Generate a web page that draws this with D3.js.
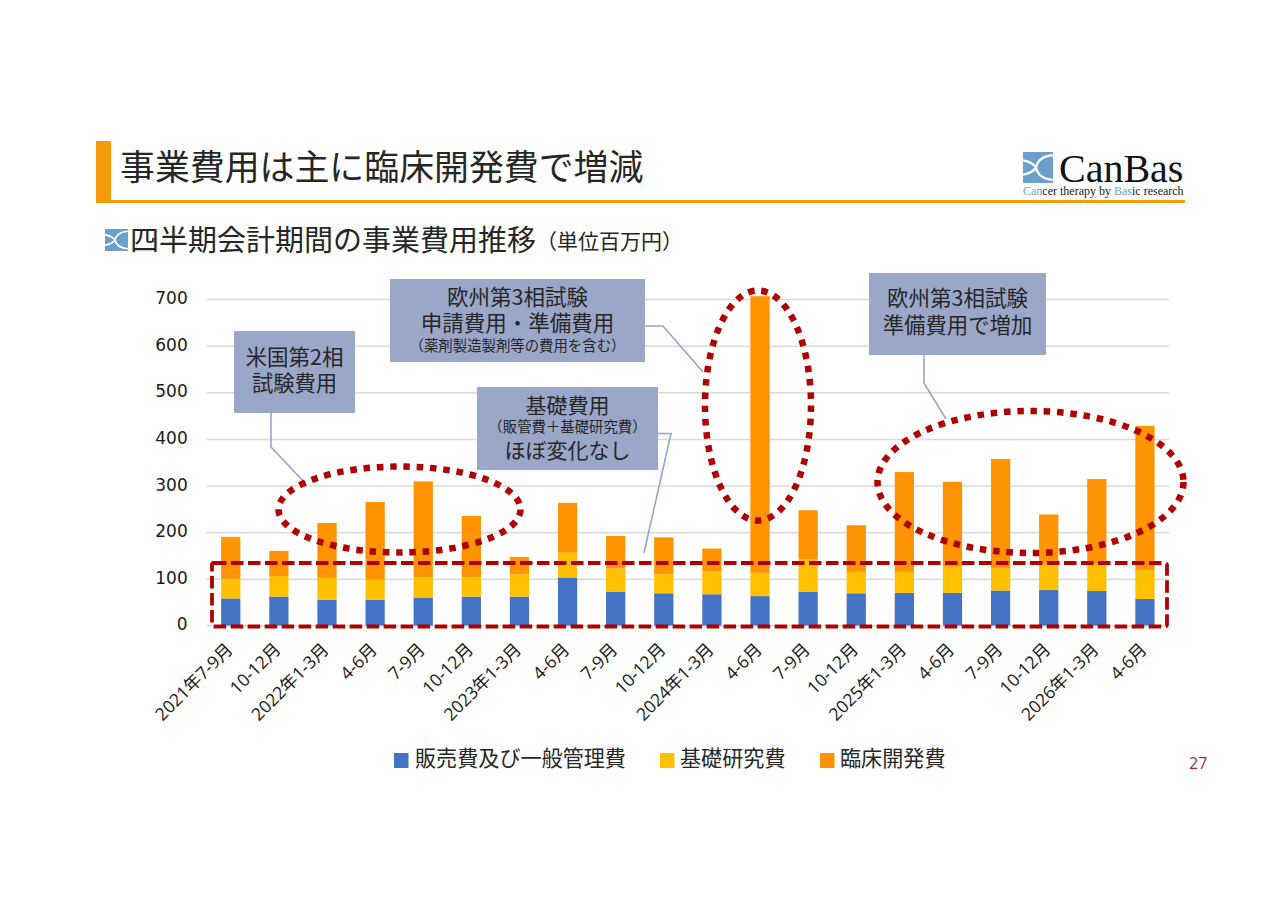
<!DOCTYPE html>
<html lang="ja">
<head>
<meta charset="utf-8">
<script src="https://cdn.jsdelivr.net/npm/d3@7/dist/d3.min.js"></script>
<style>
html,body{margin:0;padding:0;background:#fff;}
svg{display:block;}
text{font-family:"Noto Sans CJK JP","Noto Sans",sans-serif;fill:#262626;}
</style>
</head>
<body>
<div id="chart"></div>
<script>
const quarters = ["2021年7-9月","10-12月","2022年1-3月","4-6月","7-9月","10-12月","2023年1-3月","4-6月","7-9月","10-12月","2024年1-3月","4-6月","7-9月","10-12月","2025年1-3月","4-6月","7-9月","10-12月","2026年1-3月","4-6月"];
const sellingAdmin = [58,62,55,55,60,62,62,103,72,69,67,63,72,69,70,70,75,76,74,57];
const basicResearch = [42,44,47,43,43,41,48,53,50,41,49,50,70,46,45,56,48,58,60,62];
const clinical = [90,54,118,167,206,132,37,107,70,79,49,593,105,100,214,182,234,104,180,309];
const seriesNames = ["販売費及び一般管理費","基礎研究費","臨床開発費"];
const seriesColors = ["#4472C4","#FFC000","#FF9400"];
const yTicks = [0,100,200,300,400,500,600,700];

const width = 1280, height = 904;
const svg = d3.select("#chart").append("svg").attr("width",width).attr("height",height);
const accent = "#F79A0C", boxFill = "#9BA7C9", leader = "#96A4C4", red = "#B00000";

/* logo mark: blue square with white arcs */
function mark(x,y,w,h,c){
  const g = svg.append("g").attr("transform",`translate(${x},${y}) scale(${w/30},${h/30})`);
  g.append("rect").attr("width",30).attr("height",30).attr("fill",c);
  g.append("path").attr("fill","none").attr("stroke","#fff").attr("stroke-width",2.2)
    .attr("d","M30,3 C18,4 14,10 13,15 C14,20 18,26 30,27 M0,8 C6,9 11,12 13,15 C11,18 6,21 0,22");
}

/* header */
svg.append("rect").attr("x",96).attr("y",141).attr("width",15).attr("height",61).attr("fill",accent);
svg.append("rect").attr("x",96).attr("y",200).attr("width",1089).attr("height",3).attr("fill",accent);
svg.append("text").attr("x",120).attr("y",180).attr("font-size",34.9).text("事業費用は主に臨床開発費で増減");
mark(1023,152,30,31,"#6A9FCE");
svg.append("text").attr("x",1059).attr("y",182).style("font-family","'Liberation Serif',serif").attr("font-size",40).style("fill","#111").text("CanBas");
const tag = svg.append("text").attr("x",1023).attr("y",195).style("font-family","'Liberation Serif',serif").attr("font-size",12);
[["Can","#6A9FCE"],["cer therapy by ","#222"],["Bas","#6A9FCE"],["ic research","#222"]].forEach(d=>tag.append("tspan").style("fill",d[1]).text(d[0]));

mark(105,229,23,22,"#6A9FCE");
svg.append("text").attr("x",130).attr("y",251).attr("font-size",29).text("四半期会計期間の事業費用推移");
svg.append("text").attr("x",536).attr("y",249).attr("font-size",21).text("（単位百万円）");

/* chart */
const x = d3.scaleBand().domain(d3.range(quarters.length)).range([206.7,1169]).paddingInner(0.6).paddingOuter(0.3);
const y = d3.scaleLinear().domain([0,700]).range([625.5,299]);
const rows = quarters.map((q,i)=>({q,i,a:sellingAdmin[i],b:basicResearch[i],c:clinical[i]}));
const stacked = d3.stack().keys(["a","b","c"])(rows);

const yAxis = svg.append("g").attr("transform","translate(206.7,0)")
  .call(d3.axisLeft(y).tickValues(yTicks).tickSize(-962.3).tickPadding(19));
yAxis.select(".domain").remove();
yAxis.selectAll("line").attr("stroke","#DADADA").attr("stroke-width",1.5);
yAxis.selectAll("text").attr("font-size",17).attr("y",-1).style("font-family","'DejaVu Sans',sans-serif").style("fill","#1a1a1a");

svg.append("g").selectAll("g").data(stacked).join("g").attr("fill",(d,i)=>seriesColors[i])
  .selectAll("rect").data(d=>d).join("rect")
  .attr("x",d=>x(d.data.i)).attr("width",x.bandwidth())
  .attr("y",d=>y(d[1])).attr("height",d=>y(d[0])-y(d[1]));

const xAxis = svg.append("g").attr("transform","translate(0,625.5)")
  .call(d3.axisBottom(x).tickFormat(i=>quarters[i]).tickSize(0).tickPadding(0));
xAxis.select(".domain").remove();
xAxis.selectAll("text").attr("font-size",17.5).attr("text-anchor","end").attr("dy",0).attr("y",0)
  .attr("transform","translate(3,25) rotate(-45)").style("font-family","'Open Sans','Noto Sans CJK JP',sans-serif").style("fill","#1a1a1a");

/* legend */
const legendX = [394,660,820], legendTextX = [415,680,840];
const legend = svg.append("g");
seriesNames.forEach((n,i)=>{
  legend.append("rect").attr("x",legendX[i]).attr("y",753).attr("width",14.5).attr("height",15).attr("fill",seriesColors[i]);
  legend.append("text").attr("x",legendTextX[i]).attr("y",766).attr("font-size",21.1).text(n);
});

/* callouts */
function poly(pts){svg.append("path").attr("d",d3.line()(pts)).attr("fill","none").attr("stroke",leader).attr("stroke-width",1.6);}
function box(x0,y0,w,h,lines){
  svg.append("rect").attr("x",x0).attr("y",y0).attr("width",w).attr("height",h).attr("fill",boxFill);
  lines.forEach(l=>svg.append("text").attr("x",x0+w/2).attr("y",l[1]).attr("text-anchor","middle").attr("font-size",l[2]).text(l[0]));
}
poly([[271,413],[271,447],[305,483]]);
poly([[645,326],[663,326],[703,372]]);
poly([[658,433.5],[671,433.5],[644,553]]);
poly([[924,355],[924,383],[946,419]]);
box(234,331,121,82,[["米国第2相",365,21.5],["試験費用",391,21.3]]);
box(390,279,255,83,[["欧州第3相試験",305,21.5],["申請費用・準備費用",331,21.5],["（薬剤製造製剤等の費用を含む）",350.5,14.4]]);
box(477,387,181,83,[["基礎費用",412.5,21],["（販管費＋基礎研究費）",431.5,14.4],["ほぼ変化なし",458,21]]);
box(869,273,177,82,[["欧州第3相試験",306,21.5],["準備費用で増加",333,21.4]]);

/* highlights */
[[399.5,509.5,121,43],[758,405.5,53,115],[1030.5,482,153,71]].forEach(e=>{
  svg.append("ellipse").attr("cx",e[0]).attr("cy",e[1]).attr("rx",e[2]).attr("ry",e[3])
    .attr("fill","none").attr("stroke",red).attr("stroke-width",6.5).attr("stroke-dasharray","6.5 6.8");
});
svg.append("rect").attr("x",212).attr("y",563).attr("width",955).attr("height",63.5).attr("rx",2)
  .attr("fill","none").attr("stroke",red).attr("stroke-width",3.8).attr("stroke-dasharray","12.5 4.5");

svg.append("text").attr("x",1189).attr("y",769).attr("font-size",16).style("font-family","'Open Sans',sans-serif").style("fill","#A0264F").text("27");
</script>
</body>
</html>
